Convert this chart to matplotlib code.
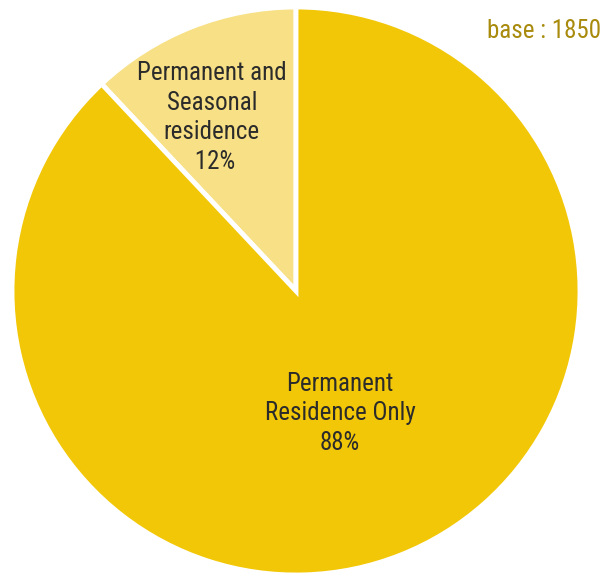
import matplotlib.pyplot as plt

names = ["Permanent and\nSeasonal\nresidence", "Permanent\nResidence Only"]
shares = [12, 88]
colors = ["#F7E085", "#F2C707"]
pct_prefix = [" ", ""]

plt.rcParams['font.family'] = ['Roboto Condensed', 'Liberation Sans Narrow', 'DejaVu Sans']
plt.rcParams['font.stretch'] = 'condensed'

fig = plt.figure(figsize=(6.03, 5.73), dpi=100)
ax = fig.add_axes([12 / 603, -2 / 573, 568 / 603, 568 / 573])

wedges, _ = ax.pie(shares, colors=colors, startangle=90, counterclock=True,
                   radius=1.0, wedgeprops=dict(edgecolor="white", linewidth=3.5))
ax.set_xlim(-1, 1)
ax.set_ylim(-1, 1)
ax.set_aspect("equal")
ax.axis("off")

# slice labels
label_pos = [(-0.296, 0.611), (0.155, -0.43)]
for name, share, pre, (lx, ly) in zip(names, shares, pct_prefix, label_pos):
    ax.text(lx, ly, f"{name}\n{pre}{share}%", ha="center", va="center",
            fontsize=18, color="#2b2b2b", linespacing=1.29)

fig.text(601 / 603, 1 - 31 / 573, "base : 1850", ha="right", va="center",
         fontsize=18, color="#A88A0C")

fig.savefig("out.png", dpi=100)
